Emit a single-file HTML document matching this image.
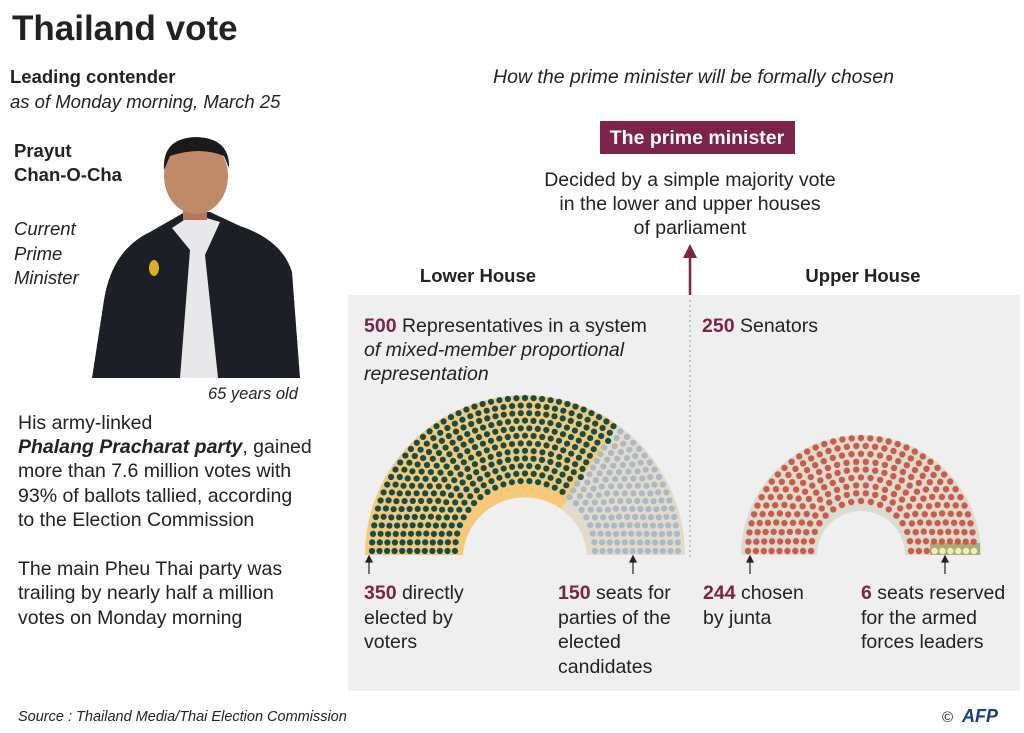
<!DOCTYPE html>
<html><head><meta charset="utf-8"><style>
html,body{margin:0;padding:0;background:#fff}
svg{display:block}
text{font-family:"Liberation Sans",sans-serif;fill:#222}
.b{font-weight:bold}.i{font-style:italic}.m{fill:#7d2248;font-weight:bold}
</style></head><body>
<svg id="s" width="1024" height="733" viewBox="0 0 1024 733" xmlns="http://www.w3.org/2000/svg">
<rect width="1024" height="733" fill="#fff"/>
<text x="12" y="40" class="b" font-size="35">Thailand vote</text>
<text x="10" y="83" class="b" font-size="18.5">Leading contender</text>
<text x="10" y="108" class="i" font-size="18.5">as of Monday  morning, March 25</text>
<text x="14" y="157" class="b" font-size="18.5">Prayut</text>
<text x="14" y="181" class="b" font-size="18.5">Chan-O-Cha</text>
<text x="14" y="235" class="i" font-size="18.5">Current</text>
<text x="14" y="260" class="i" font-size="18.5">Prime</text>
<text x="14" y="284" class="i" font-size="18.5">Minister</text>
<path d="M92 378 L104 300 Q112 250 150 232 L185 212 L210 212 L240 226 Q282 240 292 272 L300 378 Z" fill="#1c1f26"/>
<path d="M172 228 L193 214 L220 222 L218 378 L170 378 Z" fill="#e8e8ea"/>
<path d="M172 228 L190 250 L180 378 L160 378 L155 250 Z" fill="#1c1f26"/>
<path d="M220 222 L205 255 L218 378 L235 378 L238 240 Z" fill="#1c1f26"/>
<rect x="183" y="195" width="24" height="25" fill="#b07a5a"/>
<ellipse cx="196" cy="176" rx="32" ry="38" fill="#c08a68"/>
<path d="M164 170 Q162 138 196 137 Q230 138 229 168 L224 156 Q200 146 170 156 Z" fill="#1a1a1a"/>
<ellipse cx="154" cy="268" rx="5" ry="8" fill="#d9b020"/>
<text x="208" y="399" class="i" font-size="16.5">65 years old</text>
<g font-size="19.5">
<text x="18" y="429">His army-linked</text>
<text x="18" y="453" class="b i">Phalang Pracharat party<tspan font-weight="normal" font-style="normal">, gained</tspan></text>
<text x="18" y="477">more than 7.6 million votes with</text>
<text x="18" y="502">93% of ballots tallied,  according</text>
<text x="18" y="526">to the Election Commission</text>
<text x="18" y="575">The main Pheu Thai party was</text>
<text x="18" y="599">trailing by nearly half a million</text>
<text x="18" y="624">votes on Monday morning</text>
</g>
<text x="493" y="83" class="i" font-size="19.5">How the prime minister will be formally chosen</text>
<rect x="600" y="121" width="195" height="33" fill="#7d2248"/>
<text x="697" y="144" font-size="19.5" text-anchor="middle" style="fill:#fff" class="b">The prime minister</text>
<g font-size="19.5" text-anchor="middle">
<text x="690" y="186">Decided by a simple majority vote</text>
<text x="690" y="210">in the lower and upper houses</text>
<text x="690" y="234">of parliament</text>
</g>
<text x="478" y="282" class="b" font-size="18.5" text-anchor="middle">Lower House</text>
<text x="863" y="282" class="b" font-size="18.5" text-anchor="middle">Upper House</text>
<rect x="348" y="295" width="672" height="396" fill="#efefef"/>
<line x1="690" y1="300" x2="690" y2="560" stroke="#999" stroke-dasharray="2,3"/>
<line x1="690" y1="295" x2="690" y2="255" stroke="#7d2248" stroke-width="2.5"/>
<path d="M683 258 L690 244 L697 258 Z" fill="#7d2248"/>
<g font-size="19.5">
<text x="364" y="332"><tspan class="m">500</tspan> Representatives in a system</text>
<text x="364" y="356" class="i">of mixed-member proportional</text>
<text x="364" y="380" class="i">representation</text>
<text x="702" y="332"><tspan class="m">250</tspan> Senators</text>
<text x="364" y="599"><tspan class="m">350</tspan> directly</text>
<text x="364" y="624">elected by</text>
<text x="364" y="648">voters</text>
<text x="558" y="599"><tspan class="m">150</tspan> seats for</text>
<text x="558" y="624">parties of the</text>
<text x="558" y="648">elected</text>
<text x="558" y="673">candidates</text>
<text x="703" y="599"><tspan class="m">244</tspan> chosen</text>
<text x="703" y="624">by junta</text>
<text x="861" y="599"><tspan class="m">6</tspan> seats reserved</text>
<text x="861" y="624">for the armed</text>
<text x="861" y="648">forces leaders</text>
</g>
<g stroke="#222" stroke-width="1.2" fill="#222">
<line x1="369" y1="560" x2="369" y2="574"/><path d="M366 562 L369 556 L372 562Z"/>
<line x1="633" y1="560" x2="633" y2="574"/><path d="M630 562 L633 556 L636 562Z"/>
<line x1="750" y1="560" x2="750" y2="574"/><path d="M747 562 L750 556 L753 562Z"/>
<line x1="945" y1="560" x2="945" y2="574"/><path d="M942 562 L945 556 L948 562Z"/>
</g>
<path d="M365 555 A160 160 0 0 1 618 425 L561 509 A62 62 0 0 0 463 555 Z" fill="#f5c978"/>
<path d="M618 425 A160 160 0 0 1 685 555 L587 555 A62 62 0 0 0 561 509 Z" fill="#e3dacb"/>
<path d="M741 555 A120 120 0 0 1 981 555 L905 555 A44 44 0 0 0 817 555 Z" fill="#d8ddcd"/>
<rect x="930" y="543" width="50" height="12" fill="#a9ad78"/>
<g id="dots"></g>
<text x="18" y="721" class="i" font-size="14.5">Source : Thailand Media/Thai Election Commission</text>
<text x="942" y="722" font-size="15">©</text>
<text x="962" y="722" class="b i" font-size="18" style="fill:#1a3a8a">AFP</text>
</svg>
<script>
function hemi(cx,cy,r0,r1,rows,N,dr,split,cA,cB,exclude){
  var g=document.getElementById('dots'),ns='http://www.w3.org/2000/svg';
  var radii=[],sum=0;
  for(var i=0;i<rows;i++){var r=r0+(r1-r0)*i/(rows-1);radii.push(r);sum+=r;}
  var seats=[],tot=0,counts=[];
  for(i=0;i<rows;i++){var c=Math.round(N*radii[i]/sum);counts.push(c);tot+=c;}
  counts[rows-1]+=N-tot;
  for(i=0;i<rows;i++){var n=counts[i];for(var j=0;j<n;j++){var a=Math.PI*(1-j/(n-1));seats.push({a:a,r:radii[i]});}}
  seats.sort(function(p,q){return q.a-p.a;});
  seats.forEach(function(s,k){
    var x=cx+s.r*Math.cos(s.a),y=cy-s.r*Math.sin(s.a);
    var col=k<split?cA:cB;
    if(exclude&&exclude(x,y))col=exclude(x,y);
    var e=document.createElementNS(ns,'circle');
    e.setAttribute('cx',x.toFixed(1));e.setAttribute('cy',y.toFixed(1));e.setAttribute('r',dr);e.setAttribute('fill',col);g.appendChild(e);
  });
}
hemi(525,551,70,153,12,500,3.1,350,'#124e4e','#a9b9c6');
hemi(861,551,50,113,9,250,3.2,250,'#d0584a','#d0584a',function(x,y){return (x>932&&y>544)?'#f6ecb8':null;});
</script>
</body></html>
